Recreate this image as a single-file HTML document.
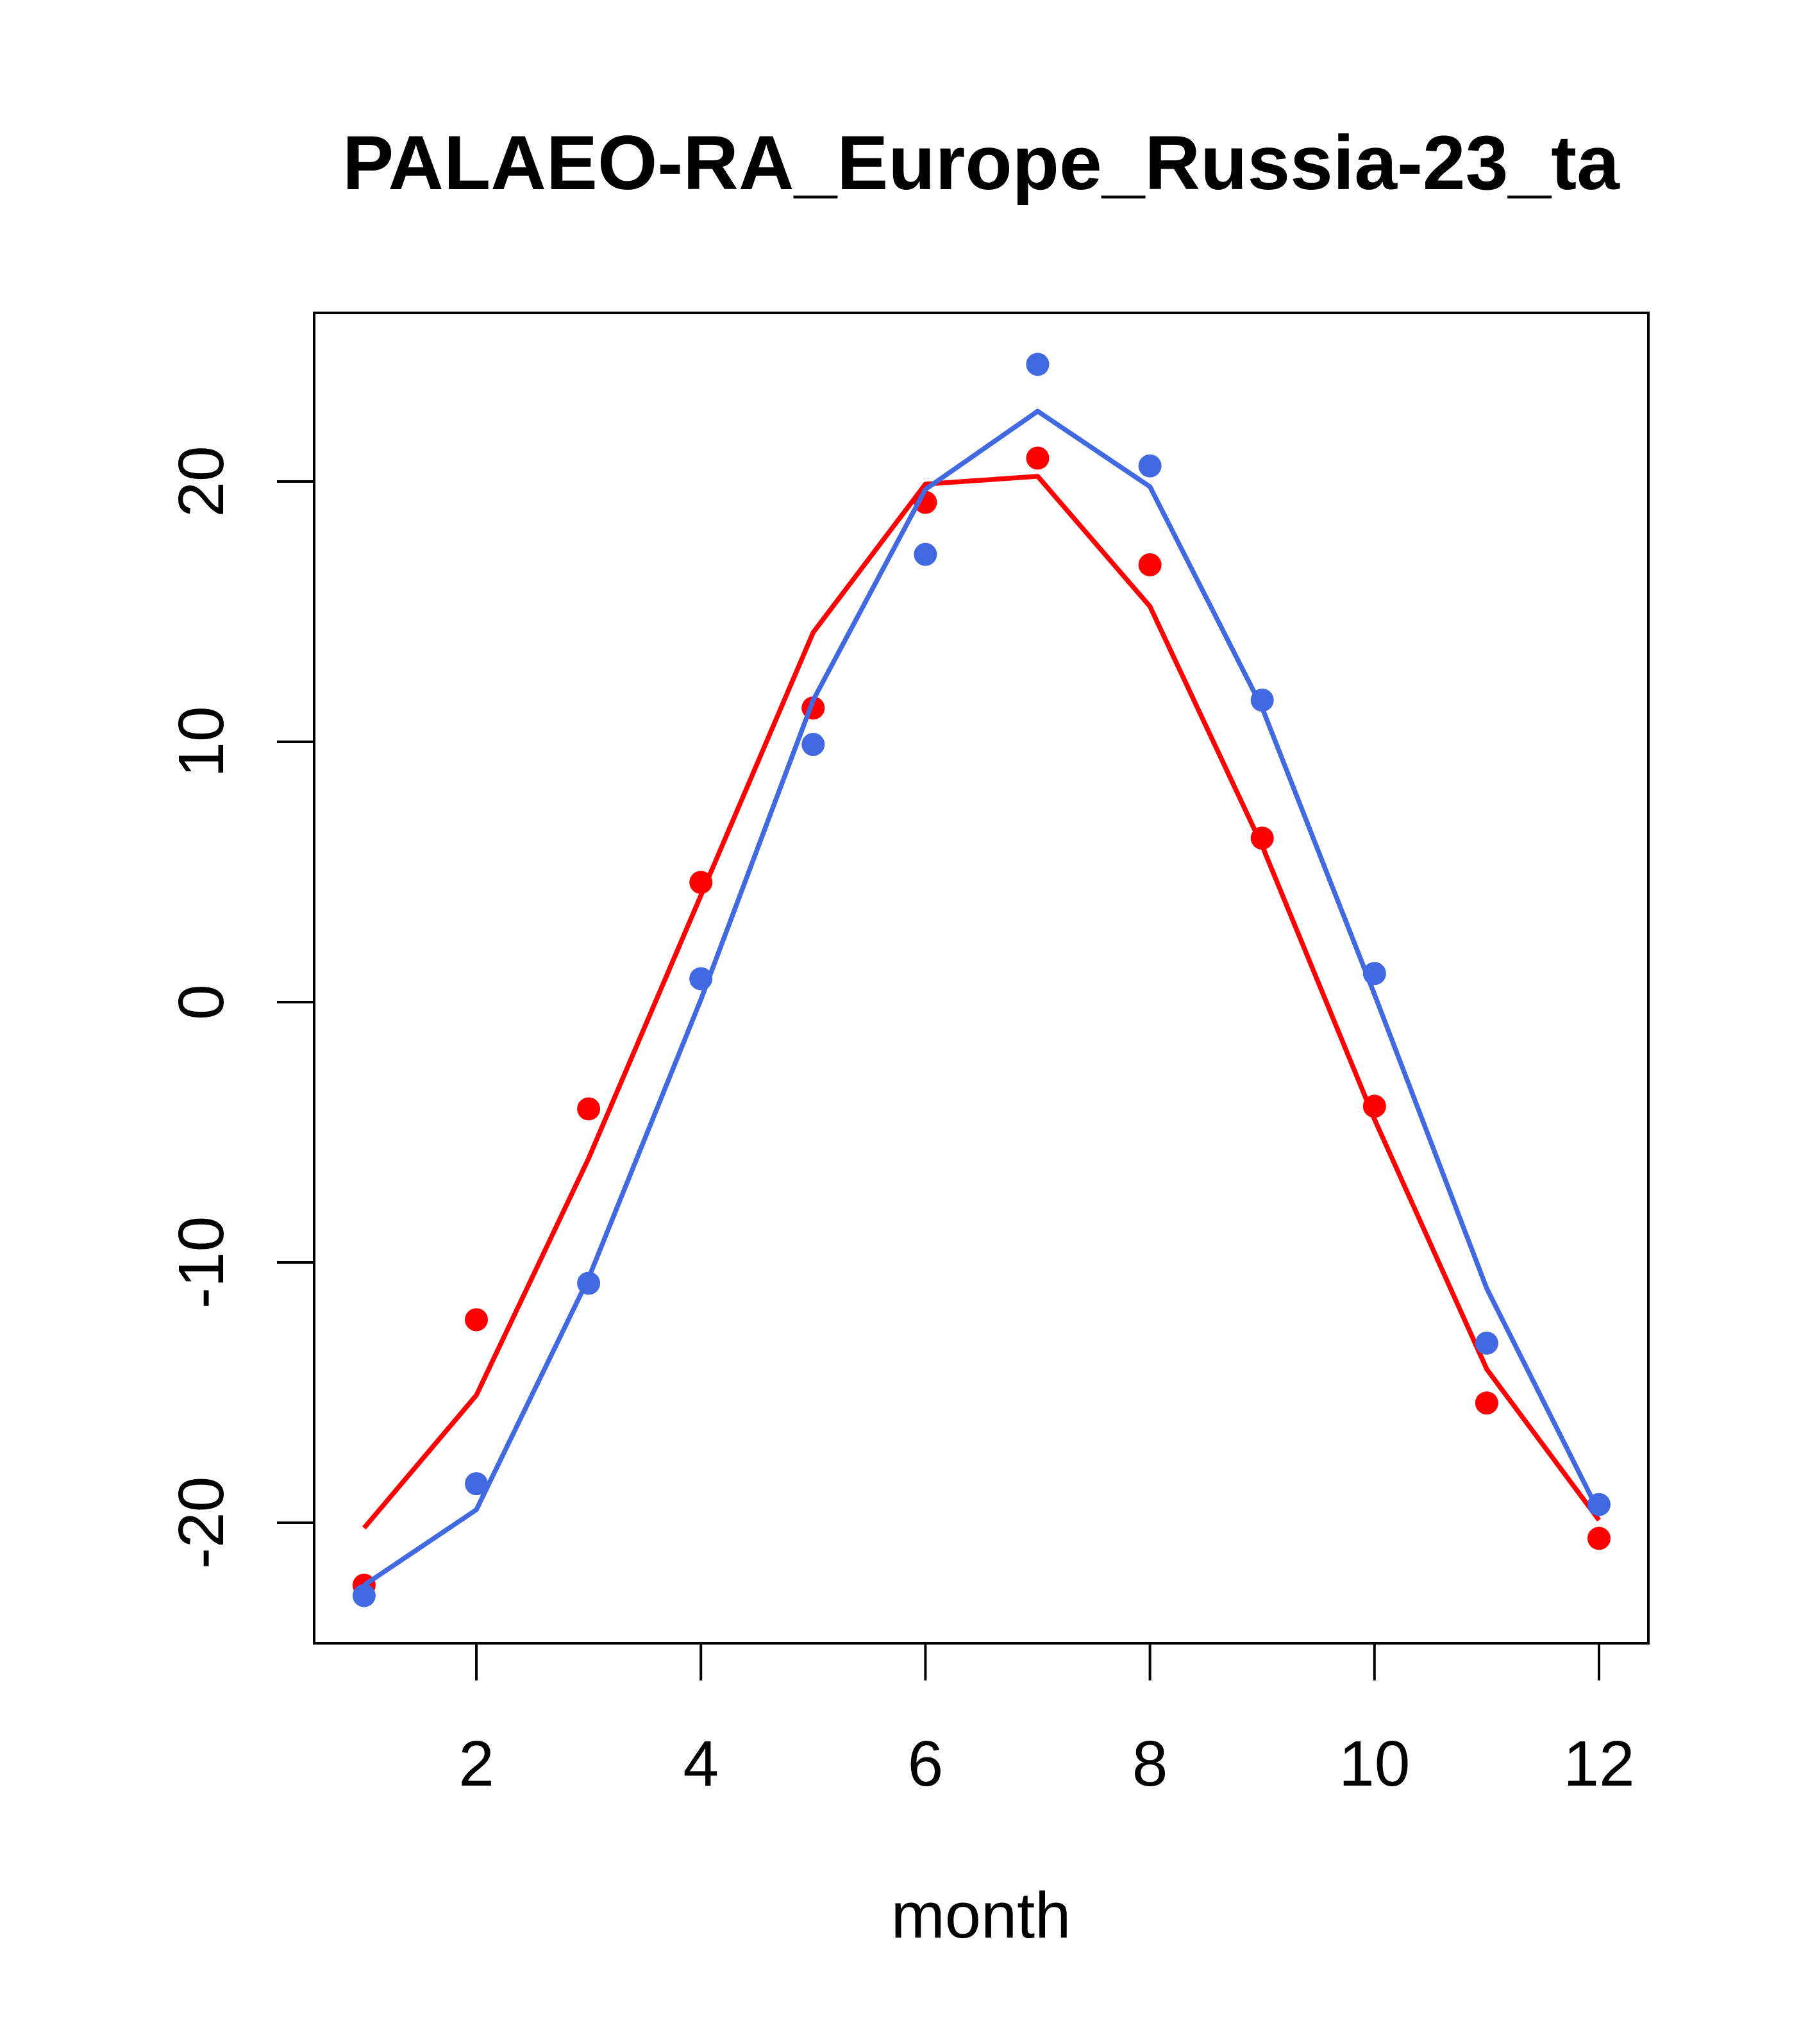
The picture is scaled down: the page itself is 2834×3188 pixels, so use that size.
<!DOCTYPE html>
<html><head><meta charset="utf-8"><style>
html,body{margin:0;padding:0;background:#fff;}
svg{display:block;font-family:"Liberation Sans",sans-serif;}
</style></head><body>
<svg id="chart" width="2834" height="3188" viewBox="0 0 2834 3188" xmlns="http://www.w3.org/2000/svg">
<text x="1530" y="295" font-size="120" font-weight="bold" text-anchor="middle">PALAEO-RA_Europe_Russia-23_ta</text>
<rect x="490" y="488" width="2081" height="2075" fill="none" stroke="#000" stroke-width="4"/>
<g id="xaxis"></g>
<g id="yaxis"></g>
<g id="marks"></g>
<text x="1530" y="3022" font-size="101" text-anchor="middle">month</text>
</svg>
<script>
const months = [1,2,3,4,5,6,7,8,9,10,11,12];
const redPoints = [-22.4,-12.2,-4.1,4.6,11.3,19.2,20.9,16.8,6.3,-4.0,-15.4,-20.6];
const redLine = [-20.2,-15.1,-6.0,4.1,14.2,19.9,20.2,15.2,6.0,-4.5,-14.1,-19.9];
const bluePoints = [-22.8,-18.5,-10.8,0.9,9.9,17.2,24.5,20.6,11.6,1.1,-13.1,-19.3];
const blueLine = [-22.4,-19.5,-10.6,0.1,11.6,19.7,22.7,19.8,11.3,0.3,-11.0,-19.6];
const xTicks = [2,4,6,8,10,12];
const yTicks = [-20,-10,0,10,20];

const NS = "http://www.w3.org/2000/svg";
function xs(m){ return 743 + (m-2)*175.1; }
function ys(v){ return 1563 - v*40.6; }
function mk(tag, attrs, parent){
  const e = document.createElementNS(NS, tag);
  for (const k in attrs) e.setAttribute(k, attrs[k]);
  parent.appendChild(e);
  return e;
}
const xa = document.getElementById('xaxis');
const ya = document.getElementById('yaxis');
const mg = document.getElementById('marks');

xTicks.forEach(t => {
  const l = mk('line', {x1:xs(t), x2:xs(t), y1:2563, y2:2621, stroke:'#000', 'stroke-width':4}, xa);
  
  
  const tx = mk('text', {x:xs(t), y:2785, 'font-size':100, 'text-anchor':'middle'}, xa);
  tx.textContent = t;
  
  
});
yTicks.forEach(t => {
  const l = mk('line', {x1:432, x2:490, y1:ys(t), y2:ys(t), stroke:'#000', 'stroke-width':4}, ya);
  
  
  const tx = mk('text', {x:0, y:0, 'font-size':100, 'text-anchor':'middle', transform:'translate(348,'+ys(t)+') rotate(-90)'}, ya);
  tx.textContent = t;
  
  
});

function drawSeries(pts, line, color, name){
  pts.forEach((v,i) => {
    const c = mk('circle', {cx:xs(months[i]), cy:ys(v), r:18, fill:color}, mg);
    
    
  });
  const d = line.map((v,i) => (i?'L':'M') + xs(months[i]) + ' ' + ys(v)).join(' ');
  const p = mk('path', {d:d, fill:'none', stroke:color, 'stroke-width':7.5, 'stroke-linejoin':'round'}, mg);
  
  
}
drawSeries(redPoints, redLine, '#ff0000', 'red-series');
drawSeries(bluePoints, blueLine, '#4169e1', 'blue-series');
</script>
</body></html>
